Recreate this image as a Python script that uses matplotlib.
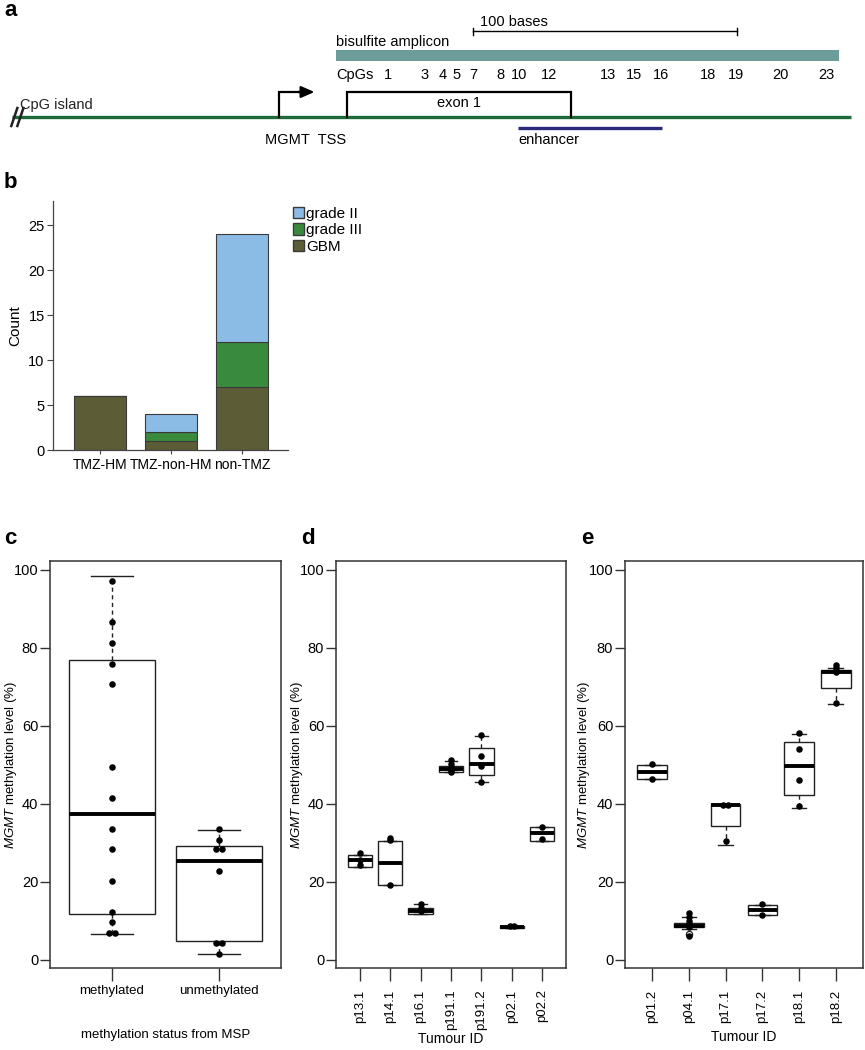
import matplotlib
matplotlib.use('Agg')
import matplotlib.pyplot as plt
from matplotlib.patches import Rectangle, Patch
import numpy as np

plt.rcParams['font.family'] = ['Liberation Sans', 'DejaVu Sans']
plt.rcParams['mathtext.fontset'] = 'custom'
plt.rcParams['mathtext.it'] = 'Liberation Sans:italic'
plt.rcParams['mathtext.rm'] = 'Liberation Sans'

# ---- panel a: MGMT promoter region (positions in bases, amplicon start = 0)
cpg_labels = ['1', '3', '4', '5', '7', '8', '10', '12', '13', '15', '16', '18', '19', '20', '23']
cpg_pos = [19.7, 33.7, 40.5, 45.5, 51.9, 62.1, 69.3, 80.7, 103.0, 112.9, 123.1, 140.9, 151.5, 168.2, 185.6]
amplicon = [0.0, 190.5]
exon1 = [4.2, 89.0]
enhancer = [69.0, 123.5]
tss = -21.6
island = [-122.7, 195.0]
scale_bar = [51.9, 151.9]

# ---- panel b: counts by group and grade
b_groups = ['TMZ-HM', 'TMZ-non-HM', 'non-TMZ']
b_gbm = [6, 1, 7]
b_grade3 = [0, 1, 5]
b_grade2 = [0, 2, 12]

# ---- panel c: methylation by MSP status
c_groups = ['methylated', 'unmethylated']
c_med = [37.3, 25.3]
c_q1 = [11.8, 4.8]
c_q3 = [76.8, 29.3]
c_lo = [6.5, 1.6]
c_hi = [98.5, 33.3]
c_meth = [97.2, 86.6, 81.3, 76.0, 70.7, 49.4, 41.5, 33.5, 28.3, 20.2, 12.3, 9.7, 6.9, 6.9]
c_unmeth = [33.6, 30.8, 28.3, 28.3, 22.9, 4.3, 4.3, 1.6]

# ---- panel d
d_ids = ['p13.1', 'p14.1', 'p16.1', 'p191.1', 'p191.2', 'p02.1', 'p02.2']
d_med = [25.6, 24.9, 12.6, 49.0, 50.2, 8.5, 32.5]
d_q1 = [23.8, 19.1, 11.8, 48.2, 47.3, 8.2, 30.6]
d_q3 = [27.0, 30.6, 13.3, 49.8, 54.4, 8.7, 34.0]
d_lo = [23.8, 19.1, 11.8, 48.1, 45.6, 8.2, 30.6]
d_hi = [27.0, 30.6, 14.2, 50.9, 57.4, 8.8, 34.0]
d_points = [[27.4, 25.6, 24.4],
            [31.2, 30.8, 19.1],
            [14.2, 13.4, 12.6],
            [51.2, 50.1, 49.2, 48.6, 48.1],
            [57.6, 52.4, 49.6, 45.7],
            [8.6, 8.6],
            [34.0, 31.0]]

# ---- panel e
e_ids = ['p01.2', 'p04.1', 'p17.1', 'p17.2', 'p18.1', 'p18.2']
e_med = [48.3, 8.7, 39.6, 12.8, 49.6, 73.9]
e_q1 = [46.4, 8.3, 34.4, 11.4, 42.3, 69.8]
e_q3 = [49.9, 9.5, 39.9, 14.1, 55.8, 74.3]
e_lo = [46.4, 8.0, 29.4, 11.4, 38.9, 65.7]
e_hi = [49.9, 10.9, 39.9, 14.1, 57.8, 74.8]
e_fliers = [[], [6.6], [], [], [], []]
e_points = [[50.2, 46.3],
            [12.0, 11.0, 10.0, 9.3, 9.0, 8.7, 8.5, 6.1],
            [39.8, 39.8, 30.5],
            [14.3, 11.5],
            [58.1, 54.0, 46.1, 39.4],
            [75.5, 74.8, 73.9, 66.0]]

W, H = 865, 1050
fig = plt.figure(figsize=(W / 100, H / 100), dpi=100)


def px_axes(x0, y0, x1, y1):
    return fig.add_axes([x0 / W, 1 - y1 / H, (x1 - x0) / W, (y1 - y0) / H])


# ================= panel a =================
axa = fig.add_axes([0, 1 - 160 / H, 1, 160 / H])
axa.set_xlim((0 - 336) / 2.64, (W - 336) / 2.64)
axa.set_ylim(160, 0)
axa.axis('off')
fs_a = 10.5
# island line + break marks
axa.plot(island, [117, 117], color='#1d6b38', lw=2.4, solid_capstyle='butt')
for dx in [0, 2.3]:
    axa.plot([island[0] + dx - 0.3, island[0] + dx + 2.0], [126, 108], color='#222222', lw=1.8)
axa.text(island[0] + 3.0, 105, 'CpG island', fontsize=fs_a, va='center', ha='left', color='#222222')
# TSS arrow
axa.plot([tss, tss, tss + 8], [117, 92, 92], color='black', lw=1.6, solid_joinstyle='miter')
axa.annotate('', xy=(tss + 14.5, 92), xytext=(tss + 6, 92),
             arrowprops=dict(arrowstyle='-|>,head_length=0.8,head_width=0.35', color='black', lw=1.6))
axa.text(tss - 5.3, 140, 'MGMT  TSS', fontsize=fs_a, va='center', ha='left')
# exon 1
axa.plot([exon1[0], exon1[0], exon1[1], exon1[1]], [117, 92, 92, 117], color='black', lw=1.6,
         solid_joinstyle='miter')
axa.text(sum(exon1) / 2, 103, 'exon 1', fontsize=fs_a, va='center', ha='center')
# enhancer
axa.plot(enhancer, [128, 128], color='#2b2a78', lw=2.4, solid_capstyle='butt')
axa.text(enhancer[0], 140, 'enhancer', fontsize=fs_a, va='center', ha='left')
# amplicon
axa.add_patch(Rectangle((amplicon[0], 50), amplicon[1] - amplicon[0], 11, facecolor='#6c9d9a', edgecolor='none'))
axa.text(amplicon[0], 42, 'bisulfite amplicon', fontsize=fs_a, va='center', ha='left')
axa.text(amplicon[0], 75, 'CpGs', fontsize=fs_a, va='center', ha='left')
for lab, p in zip(cpg_labels, cpg_pos):
    axa.text(p, 75, lab, fontsize=fs_a, va='center', ha='center')
# scale bar
axa.plot(scale_bar, [31, 31], color='black', lw=1)
for s in scale_bar:
    axa.plot([s, s], [27.5, 34.5], color='black', lw=1)
axa.text(scale_bar[0] + 2.5, 22, '100 bases', fontsize=fs_a, va='center', ha='left')

# ================= panel b =================
axb = px_axes(53, 201, 288, 450)
xb = np.arange(len(b_groups))
bw = 0.746
ec = '#3a3a3a'
axb.bar(xb, b_gbm, bw, color='#5c5c37', edgecolor=ec, lw=0.8)
axb.bar(xb, b_grade3, bw, bottom=b_gbm, color='#3a8a3e', edgecolor=ec, lw=0.8)
bot2 = np.array(b_gbm) + np.array(b_grade3)
axb.bar(xb, b_grade2, bw, bottom=bot2, color='#8bbce6', edgecolor=ec, lw=0.8)
axb.set_xlim(-0.662, 2.648)
axb.set_ylim(0, 27.7)
axb.set_yticks([0, 5, 10, 15, 20, 25])
axb.set_xticks(xb)
axb.set_xticklabels(b_groups, fontsize=10)
axb.tick_params(axis='y', labelsize=10.5, length=4, width=0.8, color='#444444', pad=2)
axb.tick_params(axis='x', length=3, width=0.8, color='#444444', pad=3)
for sp in ['top', 'right']:
    axb.spines[sp].set_visible(False)
for sp in ['left', 'bottom']:
    axb.spines[sp].set_color('#444444')
    axb.spines[sp].set_linewidth(0.9)
axb.set_ylabel('Count', fontsize=11)
axb.yaxis.set_label_coords((22 - 53) / 235, 0.5)
handles = [Patch(facecolor='#8bbce6', edgecolor=ec, label='grade II'),
           Patch(facecolor='#3a8a3e', edgecolor=ec, label='grade III'),
           Patch(facecolor='#5c5c37', edgecolor=ec, label='GBM')]
axb.legend(handles=handles, loc='upper left', bbox_to_anchor=(293 / W, 1 - 207 / H),
           bbox_transform=fig.transFigure, frameon=False, fontsize=11, handlelength=0.75,
           handleheight=0.75, handletextpad=0.1, labelspacing=0.15, borderaxespad=0, borderpad=0)


# ================= panels c, d, e =================
def stats_list(med, q1, q3, lo, hi, fliers=None):
    out = []
    for i in range(len(med)):
        out.append(dict(med=med[i], q1=q1[i], q3=q3[i], whislo=lo[i], whishi=hi[i],
                        fliers=(fliers[i] if fliers else [])))
    return out


def spread(vals, step):
    # place equal values side by side
    xs = np.zeros(len(vals))
    seen = {}
    for i, v in enumerate(vals):
        seen.setdefault(round(v, 1), []).append(i)
    for idxs in seen.values():
        n = len(idxs)
        for k, i in enumerate(idxs):
            xs[i] = (k - (n - 1) / 2) * step
    return xs


AX_TOP, AX_BOT = 561, 968
AX_H = AX_BOT - AX_TOP


def box_panel(ax, stats, points, labels, rot, step):
    n = len(stats)
    pos = np.arange(1, n + 1)
    ax.bxp(stats, positions=pos, widths=0.8, showfliers=True, patch_artist=True,
           boxprops=dict(facecolor='white', edgecolor='#222222', lw=1.0),
           medianprops=dict(color='black', lw=2.8, solid_capstyle='butt'),
           whiskerprops=dict(color='#222222', lw=1.0, linestyle=(0, (3, 2.5))),
           capprops=dict(color='#222222', lw=1.0),
           capwidths=0.4,
           flierprops=dict(marker='o', markerfacecolor='none', markeredgecolor='#222222',
                           markersize=4.5, markeredgewidth=0.9))
    for p, vals in zip(pos, points):
        ax.scatter(p + spread(vals, step), vals, s=22, color='black', zorder=5, lw=0)
    ax.set_xlim(0.5 - 0.04 * n, n + 0.5 + 0.04 * n)
    ax.set_ylim(-2.1, 102.3)
    ax.set_yticks([0, 20, 40, 60, 80, 100])
    ax.set_xticks(pos)
    ax.set_xticklabels(labels, rotation=rot, fontsize=9.5)
    ax.tick_params(axis='y', labelsize=10.5, length=7, width=1.0, color='#333333', pad=1.5)
    ax.tick_params(axis='x', length=9.4, width=1.0, color='#333333', pad=6 if rot else 3)
    for sp in ax.spines.values():
        sp.set_color('#333333')
        sp.set_linewidth(1.1)
    ax.set_ylabel(r'$\mathit{MGMT}$ methylation level (%)', fontsize=9.5)


axc = px_axes(50, AX_TOP, 281, AX_BOT)
box_panel(axc, stats_list(c_med, c_q1, c_q3, c_lo, c_hi), [c_meth, c_unmeth], c_groups, 0, 0.055)
axc.yaxis.set_label_coords((19 - 50) / 231, 0.5)
axc.set_xlabel('methylation status from MSP', fontsize=9.5)
axc.xaxis.set_label_coords(0.5, -(1029 - AX_BOT) / AX_H)

axd = px_axes(336, AX_TOP, 566, AX_BOT)
box_panel(axd, stats_list(d_med, d_q1, d_q3, d_lo, d_hi), d_points, d_ids, 90, 0.12)
axd.yaxis.set_label_coords((305 - 336) / 230, 0.5)
axd.set_xlabel('Tumour ID', fontsize=10)
axd.xaxis.set_label_coords(0.5, -(1032 - AX_BOT) / AX_H)

axe = px_axes(625, AX_TOP, 863, AX_BOT)
box_panel(axe, stats_list(e_med, e_q1, e_q3, e_lo, e_hi, e_fliers), e_points, e_ids, 90, 0.12)
axe.yaxis.set_label_coords((592 - 625) / 238, 0.5)
axe.set_xlabel('Tumour ID', fontsize=10)
axe.xaxis.set_label_coords(0.5, -(1030 - AX_BOT) / AX_H)

# panel letters
for lab, x, y in [('a', 4, 10), ('b', 4, 183), ('c', 4, 538), ('d', 301, 538), ('e', 581, 538)]:
    fig.text(x / W, 1 - y / H, lab, fontsize=16, fontweight='bold', va='center', ha='left')

fig.savefig('out.png', dpi=100)
